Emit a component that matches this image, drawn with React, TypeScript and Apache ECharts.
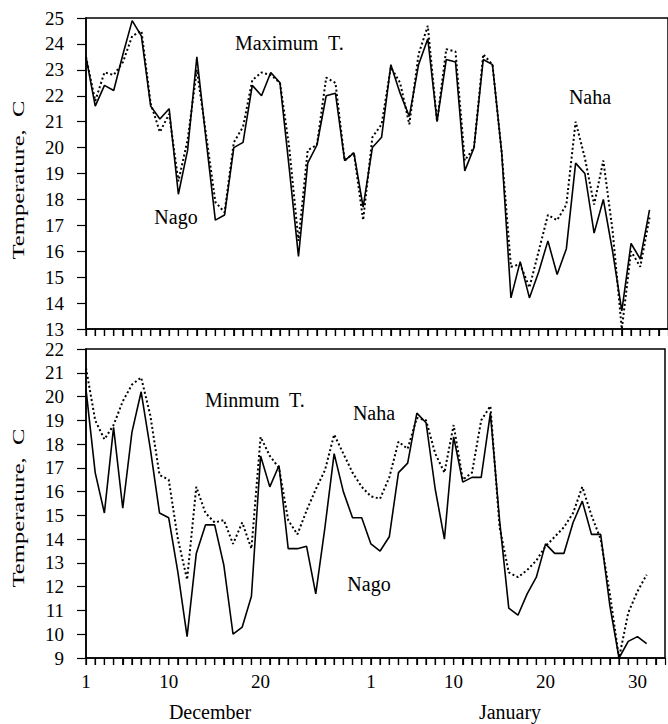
import React, { useEffect, useRef } from "react";
import * as echarts from "echarts";

// Day index: 1 = Dec 1 ... 31 = Dec 31, 32 = Jan 1 ... 62 = Jan 31
const days = [
  1, 2, 3, 4, 5, 6, 7, 8, 9, 10, 11, 12, 13, 14, 15, 16, 17, 18, 19, 20, 21,
  22, 23, 24, 25, 26, 27, 28, 29, 30, 31, 32, 33, 34, 35, 36, 37, 38, 39, 40,
  41, 42, 43, 44, 45, 46, 47, 48, 49, 50, 51, 52, 53, 54, 55, 56, 57, 58, 59,
  60, 61, 62,
];

const nagoMax = [
  23.5, 21.6, 22.4, 22.2, 23.6, 24.9, 24.3, 21.6, 21.1, 21.5, 18.2, 19.9, 23.5,
  20.3, 17.2, 17.4, 20.0, 20.2, 22.4, 22.0, 22.9, 22.5, 19.2, 15.8, 19.4, 20.1,
  22.0, 22.1, 19.5, 19.8, 17.7, 20.0, 20.4, 23.2, 22.1, 21.2, 23.2, 24.2, 21.0,
  23.4, 23.3, 19.1, 20.0, 23.4, 23.2, 19.8, 14.2, 15.6, 14.2, 15.2, 16.4, 15.1,
  16.1, 19.4, 19.0, 16.7, 18.0, 16.0, 13.7, 16.3, 15.7, 17.6,
];

const nahaMax = [
  23.5, 21.8, 22.9, 22.8, 23.3, 24.3, 24.5, 21.7, 20.6, 21.3, 18.7, 20.3, 23.0,
  20.5, 17.9, 17.5, 20.2, 20.8, 22.6, 22.9, 22.8, 22.5, 20.0, 16.4, 19.9, 20.1,
  22.7, 22.5, 19.5, 19.8, 17.2, 20.4, 20.9, 23.1, 22.5, 20.9, 23.6, 24.7, 21.0,
  23.8, 23.7, 19.5, 20.0, 23.6, 23.2, 19.8, 15.4, 15.5, 14.6, 16.0, 17.4, 17.2,
  17.8, 21.0, 19.6, 17.8, 19.5, 16.8, 13.0, 16.0, 15.4, 17.3,
];

const nagoMin = [
  20.3, 16.8, 15.1, 18.7, 15.3, 18.5, 20.2, 17.8, 15.1, 14.9, 12.6, 9.9, 13.4,
  14.6, 14.6, 12.9, 10.0, 10.3, 11.6, 17.5, 16.2, 17.1, 13.6, 13.6, 13.7, 11.7,
  14.5, 17.6, 16.0, 14.9, 14.9, 13.8, 13.5, 14.1, 16.8, 17.2, 19.3, 18.9, 16.1,
  14.0, 18.3, 16.4, 16.6, 16.6, 19.3, 14.8, 11.1, 10.8, 11.7, 12.4, 13.8, 13.4,
  13.4, 14.7, 15.6, 14.2, 14.2, 11.2, 9.0, 9.7, 9.9, 9.6,
];

const nahaMin = [
  21.2, 19.0, 18.2, 18.8, 19.8, 20.5, 20.8, 19.2, 16.7, 16.5, 14.0, 12.3, 16.2,
  15.1, 14.7, 14.8, 13.8, 14.7, 13.6, 18.3, 17.5, 17.0, 14.8, 14.2, 15.2, 16.1,
  16.9, 18.4, 17.6, 16.8, 16.2, 15.8, 15.7, 16.6, 18.1, 17.8, 19.1, 19.0, 17.6,
  16.8, 18.8, 16.5, 16.8, 19.0, 19.6, 14.5, 12.6, 12.4, 12.7, 13.1, 13.7, 14.1,
  14.5, 15.1, 16.2, 15.0, 14.0, 11.7, 9.0, 10.9, 11.8, 12.5,
];

const tickDays = [1, 10, 20, 32, 41, 51, 61];
const tickLabels = ["1", "10", "20", "1", "10", "20", "30"];

// day positions for the small ticks under each panel
const dayTicks = [
  1, 2, 3, 4, 5, 6, 7, 8, 9, 10, 11, 12, 13, 14, 15, 16, 17, 18, 19, 20, 21,
  22, 23, 24, 25, 26, 27, 28, 29, 30, 31, 32, 33, 34, 35, 36, 37, 38, 39, 40,
  41, 42, 43, 44, 45, 46, 47, 48, 49, 50, 51, 52, 53, 54, 55, 56, 57, 58, 59,
  60, 61, 62, 63,
];

const FONT = '"Liberation Serif", "DejaVu Serif", serif';

export default function App() {
  const ref = useRef<HTMLDivElement>(null);

  useEffect(() => {
    if (!ref.current) return;
    const chart = echarts.init(ref.current, null, { renderer: "svg" });

    const pair = (vals: number[]) => days.map((d, i) => [d, vals[i]]);

    const xBase = (gridIndex: number, showLabels: boolean) => ({
      gridIndex,
      type: "value",
      min: 1,
      max: 64,
      interval: 1,
      axisLine: {
        show: true,
        onZero: false,
        lineStyle: { color: "#000", width: 1.5 },
      },
      axisTick: {
        show: true,
        inside: false,
        length: 7,
        lineStyle: { color: "#000", width: 1.2 },
      },
      axisLabel: {
        show: showLabels,
        color: "#000",
        fontFamily: FONT,
        fontSize: 19,
        margin: 14,
        showMinLabel: true,
        hideOverlap: false,
        formatter: (v: number) => {
          const k = tickDays.indexOf(v);
          return k >= 0 ? tickLabels[k] : "";
        },
      },
      splitLine: { show: false },
    });

    const yBase = (gridIndex: number, min: number, max: number) => ({
      gridIndex,
      type: "value",
      min,
      max,
      interval: 1,
      axisLine: { show: true, lineStyle: { color: "#000", width: 1.5 } },
      axisTick: {
        show: true,
        inside: false,
        length: 9,
        lineStyle: { color: "#000", width: 1.2 },
      },
      axisLabel: {
        color: "#000",
        fontFamily: FONT,
        fontSize: 19,
        margin: 22,
      },
      splitLine: { show: false },
    });

    const solid = { color: "#000", width: 1.6 };
    const dotted = { color: "#000", width: 2, type: [2, 2.5] };

    const tickSeries = (idx: number, yMin: number) => ({
      type: "custom",
      xAxisIndex: idx,
      yAxisIndex: idx,
      silent: true,
      clip: false,
      data: dayTicks.map((d) => [d, yMin]),
      renderItem: (params: any, api: any) => {
        const p = api.coord([api.value(0), api.value(1)]);
        return {
          type: "line",
          shape: { x1: p[0], y1: p[1], x2: p[0], y2: p[1] + 7 },
          style: { stroke: "#000", lineWidth: 1.3 },
        };
      },
    });

    const txt = (
      text: string,
      x: number,
      y: number,
      align: string = "center",
      extra: any = {}
    ) => ({
      type: "text",
      x,
      y,
      ...extra,
      style: {
        text,
        fill: "#000",
        fontFamily: FONT,
        fontSize: 20,
        align,
        verticalAlign: "middle",
        ...(extra.style || {}),
      },
    });

    chart.setOption({
      animation: false,
      backgroundColor: "#fff",
      grid: [
        {
          left: 86,
          right: -12,
          top: 18,
          height: 311,
          show: true,
          borderColor: "#000",
          borderWidth: 1.5,
          containLabel: false,
        },
        {
          left: 86,
          right: -12,
          top: 349,
          height: 309,
          show: true,
          borderColor: "#000",
          borderWidth: 1.5,
          containLabel: false,
        },
      ],
      xAxis: [xBase(0, false), xBase(1, true)],
      yAxis: [yBase(0, 13, 25), yBase(1, 9, 22)],
      series: [
        tickSeries(0, 13),
        tickSeries(1, 9),
        {
          name: "Nago max",
          type: "line",
          xAxisIndex: 0,
          yAxisIndex: 0,
          data: pair(nagoMax),
          showSymbol: false,
          symbol: "none",
          lineStyle: solid,
        },
        {
          name: "Naha max",
          type: "line",
          xAxisIndex: 0,
          yAxisIndex: 0,
          data: pair(nahaMax),
          showSymbol: false,
          symbol: "none",
          lineStyle: dotted,
        },
        {
          name: "Nago min",
          type: "line",
          xAxisIndex: 1,
          yAxisIndex: 1,
          data: pair(nagoMin),
          showSymbol: false,
          symbol: "none",
          lineStyle: solid,
        },
        {
          name: "Naha min",
          type: "line",
          xAxisIndex: 1,
          yAxisIndex: 1,
          data: pair(nahaMin),
          showSymbol: false,
          symbol: "none",
          lineStyle: dotted,
        },
      ],
      graphic: [
        txt("Maximum  T.", 235, 43, "left"),
        txt("Nago", 176, 217),
        txt("Naha", 590, 97),
        txt("Minmum  T.", 205, 400, "left"),
        txt("Naha", 374, 413),
        txt("Nago", 369, 584),
        txt("December", 210, 712),
        txt("January", 510, 712),
        txt("Temperature,  C", 18, 180, "center", {
          rotation: Math.PI / 2,
          scaleX: 1.45,
          style: { fontSize: 17 },
        }),
        txt("Temperature,  C", 18, 508, "center", {
          rotation: Math.PI / 2,
          scaleX: 1.45,
          style: { fontSize: 17 },
        }),
      ],
    });

    return () => chart.dispose();
  }, []);

  return (
    <div
      ref={ref}
      style={{
        position: "absolute",
        left: 0,
        top: 0,
        width: 668,
        height: 724,
      }}
    />
  );
}
